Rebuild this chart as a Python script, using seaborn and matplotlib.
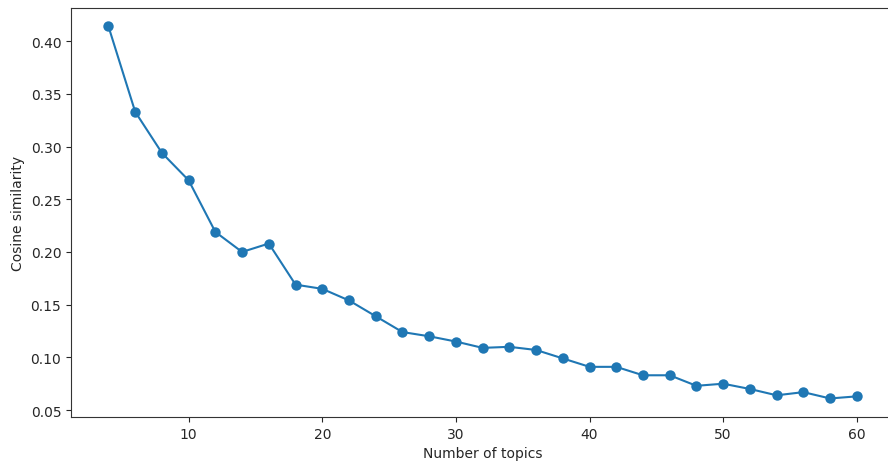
import matplotlib
matplotlib.use("Agg")
import matplotlib.pyplot as plt
from matplotlib.ticker import FormatStrFormatter
import seaborn as sns
import pandas as pd

# number of topics and mean cosine similarity between topics
n_topics = list(range(4, 62, 2))
cos_sim = [0.414, 0.333, 0.294, 0.268, 0.219, 0.200, 0.208, 0.169, 0.165, 0.154,
           0.139, 0.124, 0.120, 0.115, 0.109, 0.110, 0.107, 0.099, 0.091, 0.091,
           0.083, 0.083, 0.073, 0.075, 0.070, 0.064, 0.067, 0.061, 0.063]

df = pd.DataFrame({"topics": n_topics, "sim": cos_sim})

sns.set_style("ticks")
plt.rcParams['font.family'] = ['DejaVu Sans']

fig = plt.figure(figsize=(8.88, 4.64), dpi=100)
# the original picture is cropped on the right, so the axes run past the edge
ax = fig.add_axes([0.080, 0.099, 0.927, 0.882])

sns.lineplot(data=df, x="topics", y="sim", marker="o", markersize=7.5,
             markeredgewidth=0, color="#1f77b4", linewidth=1.5, ax=ax)
ax.set_xlabel("Number of topics")
ax.set_ylabel("Cosine similarity")
ax.set_xticks([10, 20, 30, 40, 50, 60])
ax.set_yticks([0.05, 0.10, 0.15, 0.20, 0.25, 0.30, 0.35, 0.40])
ax.yaxis.set_major_formatter(FormatStrFormatter("%.2f"))
ax.spines["right"].set_visible(False)
for s in ax.spines.values():
    s.set_color("#333333")

fig.savefig("out.png", dpi=100)
